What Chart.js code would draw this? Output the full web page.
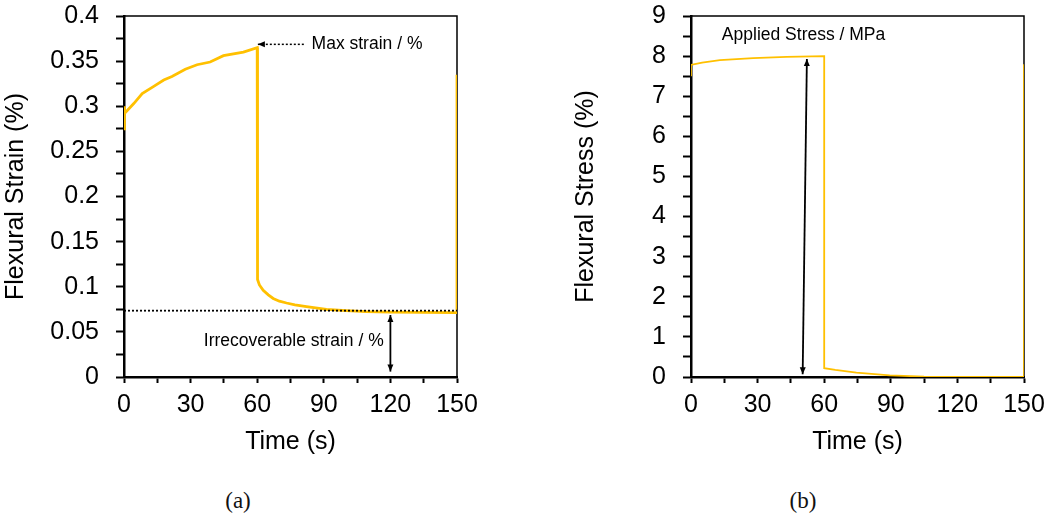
<!DOCTYPE html>
<html>
<head>
<meta charset="utf-8">
<script src="https://cdn.jsdelivr.net/npm/chart.js@4"></script>
<style>
  body { margin: 0; background: #fff; width: 1053px; height: 519px; position: relative; overflow: hidden; }
  .panel { position: absolute; top: 0; }
  .cap { position: absolute; top: 488px; width: 60px; text-align: center; font: 23px "Liberation Serif", "DejaVu Serif", serif; color: #111; }
</style>
</head>
<body>
<div class="panel" style="left:0"><canvas id="strain" width="486" height="470"></canvas></div>
<div class="panel" style="left:567px"><canvas id="stress" width="486" height="470"></canvas></div>
<div class="cap" style="left:208px">(a)</div>
<div class="cap" style="left:773px">(b)</div>
<script>
// (a) flexural strain vs time
const strainTime = [0, 0, 0.4, 4.4, 8.2, 13.4, 17.9, 21.6, 27.6, 32.9, 38.8, 44.8, 53.8, 60,
  60, 60.3, 61, 62.7, 65, 67.2, 70, 73.2, 77, 82.2, 91.2, 100, 109, 120, 135, 150, 150];
const strainValue = [0.275, 0.300, 0.292, 0.303, 0.314, 0.322, 0.329, 0.333, 0.341, 0.346, 0.349, 0.356, 0.360, 0.365,
  0.115, 0.108, 0.102, 0.096, 0.091, 0.087, 0.084, 0.082, 0.080, 0.078, 0.075, 0.0735, 0.0724, 0.0718, 0.0715, 0.0713, 0.335];

// (b) flexural stress vs time
const stressTime = [0, 0, 5, 13, 28, 43, 60, 60, 65, 74.5, 89.5, 105, 120, 150, 150];
const stressValue = [7.5, 7.78, 7.84, 7.9, 7.95, 7.98, 8.0, 0.22, 0.175, 0.11, 0.04, 0.01, 0.0, 0.0, 7.8];

// annotation anchors, in data units
const maxStrainArrow = [[81, 0.3686], [60.3, 0.3686]];
const maxStrainLabel = [84.5, 0.3686, 'Max strain / %'];
const irrecoverableLevel = 0.0735;
const irrecoverableArrow = [[120, 0.0687], [120, 0.006]];
const irrecoverableLabel = [117, 0.040, 'Irrecoverable strain / %'];
const stressArrow = [[50.3, 0.07], [52.2, 7.93]];
const stressLabel = [13.9, 8.52, 'Applied Stress / MPa'];

const LINE = '#FFC000';
Chart.defaults.font.family = '"Liberation Sans", Arial, sans-serif';
Chart.defaults.color = '#000';

function head(ctx, x1, y1, x2, y2) {
  // filled head pointing at (x2, y2)
  const a = Math.atan2(y2 - y1, x2 - x1);
  ctx.beginPath();
  ctx.moveTo(x2, y2);
  ctx.lineTo(x2 - 7 * Math.cos(a) + 3 * Math.sin(a), y2 - 7 * Math.sin(a) - 3 * Math.cos(a));
  ctx.lineTo(x2 - 7 * Math.cos(a) - 3 * Math.sin(a), y2 - 7 * Math.sin(a) + 3 * Math.cos(a));
  ctx.closePath();
  ctx.fill();
}

const frame = {
  id: 'frame',
  beforeDatasetsDraw(chart) {
    const { ctx, chartArea: a } = chart;
    ctx.save();
    ctx.strokeStyle = '#000';
    ctx.lineWidth = 1.5;
    ctx.beginPath();
    ctx.moveTo(a.left, a.top);
    ctx.lineTo(a.right, a.top);
    ctx.lineTo(a.right, a.bottom);
    ctx.stroke();
    ctx.restore();
  },
};

function notes(list) {
  return {
    id: 'notes',
    afterDatasetsDraw(chart) {
      const { ctx, scales: { x, y } } = chart;
      const px = (p) => [x.getPixelForValue(p[0]), y.getPixelForValue(p[1])];
      ctx.save();
      ctx.fillStyle = '#000';
      ctx.strokeStyle = '#000';
      list.forEach((n) => {
        if (n.type === 'hline') {
          ctx.lineWidth = 1.8;
          ctx.setLineDash([2, 2]);
          ctx.beginPath();
          ctx.moveTo(x.getPixelForValue(0), y.getPixelForValue(n.y));
          ctx.lineTo(x.getPixelForValue(150), y.getPixelForValue(n.y));
          ctx.stroke();
          ctx.setLineDash([]);
        } else if (n.type === 'arrow') {
          const [x1, y1] = px(n.from);
          const [x2, y2] = px(n.to);
          ctx.lineWidth = n.dotted ? 1.5 : 1.8;
          ctx.setLineDash(n.dotted ? [2, 2] : []);
          ctx.beginPath();
          ctx.moveTo(x1, y1);
          ctx.lineTo(x2, y2);
          ctx.stroke();
          ctx.setLineDash([]);
          head(ctx, x1, y1, x2, y2);
          if (n.both) head(ctx, x2, y2, x1, y1);
        } else if (n.type === 'text') {
          const [tx, ty] = px(n.at);
          ctx.font = '17.5px "Liberation Sans", Arial, sans-serif';
          ctx.textAlign = n.align;
          ctx.textBaseline = 'middle';
          ctx.fillText(n.at[2], tx, ty);
        }
      });
      ctx.restore();
    },
  };
}

function makeChart(id, time, values, yMax, yStep, yMajor, yTitle, padLeft, lineWidth, extra) {
  const big = { size: 25 };
  return new Chart(document.getElementById(id), {
    type: 'line',
    data: {
      datasets: [{
        data: time.map((t, i) => ({ x: t, y: values[i] })),
        borderColor: LINE,
        borderWidth: lineWidth,
        pointRadius: 0,
        tension: 0,
        fill: false,
      }],
    },
    options: {
      responsive: false,
      animation: false,
      events: [],
      layout: { padding: { left: padLeft, right: 29, top: 16, bottom: 9 } },
      plugins: { legend: { display: false }, tooltip: { enabled: false } },
      scales: {
        x: {
          type: 'linear',
          min: 0,
          max: 150,
          afterFit: (s) => { s.height = 84; s.paddingLeft = 0; s.paddingRight = 0; },
          grid: { drawOnChartArea: false, tickLength: 6, tickColor: '#000', tickWidth: 2 },
          border: { color: '#000', width: 2.5 },
          ticks: {
            stepSize: 15,
            padding: 7,
            font: big,
            maxRotation: 0,
            autoSkip: false,
            callback: (v) => (v % 30 === 0 ? String(v) : ''),
          },
          title: { display: true, text: 'Time (s)', font: big, padding: { top: 0, bottom: 4 } },
        },
        y: {
          min: 0,
          max: yMax,
          afterFit: (s) => { s.width = 124 - padLeft; s.paddingTop = 0; s.paddingBottom = 0; },
          grid: { drawOnChartArea: false, tickLength: 8, tickColor: '#000', tickWidth: 2 },
          border: { color: '#000', width: 2.5 },
          ticks: {
            stepSize: yStep,
            padding: 17,
            font: big,
            autoSkip: false,
            callback: (v) => {
              const r = v / yMajor;
              return Math.abs(r - Math.round(r)) < 1e-6 ? String(Number(v.toFixed(3))) : '';
            },
          },
          title: { display: true, text: yTitle, font: big, padding: { top: 0, bottom: 0 } },
        },
      },
    },
    plugins: [frame, notes(extra)],
  });
}

makeChart('strain', strainTime, strainValue, 0.4, 0.025, 0.05, 'Flexural Strain (%)', 1, 2.8, [
  { type: 'hline', y: irrecoverableLevel },
  { type: 'arrow', from: maxStrainArrow[0], to: maxStrainArrow[1], dotted: true },
  { type: 'text', at: maxStrainLabel, align: 'left' },
  { type: 'arrow', from: irrecoverableArrow[0], to: irrecoverableArrow[1], both: true },
  { type: 'text', at: irrecoverableLabel, align: 'right' },
]);

makeChart('stress', stressTime, stressValue, 9, 0.5, 1, 'Flexural Stress (%)', 4, 1.8, [
  { type: 'arrow', from: stressArrow[0], to: stressArrow[1], both: true },
  { type: 'text', at: stressLabel, align: 'left' },
]);
</script>
</body>
</html>
